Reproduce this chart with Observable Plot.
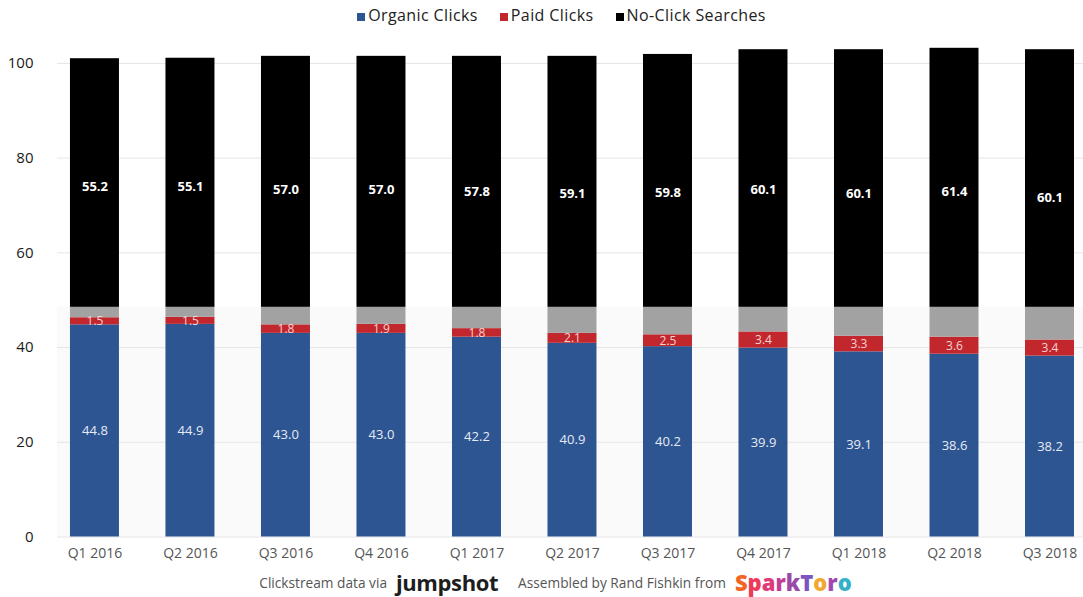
<!DOCTYPE html>
<html>
<head>
<meta charset="utf-8">
<script src="https://cdn.jsdelivr.net/npm/d3@7"></script>
<script src="https://cdn.jsdelivr.net/npm/@observablehq/plot@0.6"></script>
<style>
  html, body { margin: 0; padding: 0; background: #fff; }
  body { width: 1083px; height: 597px; overflow: hidden; font-family: "Open Sans", sans-serif; }
  #legend { height: 30px; display: flex; justify-content: center; align-items: center; padding-left: 40px; box-sizing: border-box; font-size: 16px; letter-spacing: 0.4px; color: #222; }
  #legend .item { display: flex; align-items: center; margin: 0 11px; }
  #legend .sw { display: inline-block; width: 8px; height: 8px; margin-right: 3px; margin-top: 3px; }
  #chart svg { display: block; }
  #footer { height: 30px; display: flex; justify-content: center; align-items: center; padding-left: 28px; box-sizing: border-box; color: #555; font-size: 13.7px; }
  #footer .logo1 { font-size: 22px; font-weight: 700; color: #1d1d1d; margin: 0 20px 0 9px; letter-spacing: -0.4px; }
  #footer .logo2 { font-size: 22px; font-weight: 800; margin-left: 9px; }
</style>
</head>
<body>
<div id="legend"></div>
<div id="chart"></div>
<div id="footer"></div>
<script>
const quarters = ["Q1 2016","Q2 2016","Q3 2016","Q4 2016","Q1 2017","Q2 2017","Q3 2017","Q4 2017","Q1 2018","Q2 2018","Q3 2018"];
const organic = [44.8, 44.9, 43.0, 43.0, 42.2, 40.9, 40.2, 39.9, 39.1, 38.6, 38.2];
const paid = [1.5, 1.5, 1.8, 1.9, 1.8, 2.1, 2.5, 3.4, 3.3, 3.6, 3.4];
const noClick = [55.2, 55.1, 57.0, 57.0, 57.8, 59.1, 59.8, 60.1, 60.1, 61.4, 60.1];
const barTop = [101.0, 101.1, 101.5, 101.5, 101.5, 101.5, 101.9, 102.9, 102.9, 103.2, 102.9];
const noClickBase = 48.5;
const yTicks = [0, 20, 40, 60, 80, 100];
const seriesNames = ["Organic Clicks", "Paid Clicks", "No-Click Searches"];
const seriesColors = ["#2d5592", "#c1272d", "#000000"];
const gapColor = "#a2a2a2";
const footerParts = ["Clickstream data via", "jumpshot", "Assembled by Rand Fishkin from", "SparkToro"];
const sparkColors = ["#f26522", "#ee3b5b", "#e03a78", "#c23d93", "#9b4aa8", "#7d55c0", "#f0a830", "#a04ab0", "#34b0c8"];

const rows = quarters.map((q, i) => ({
  q,
  organic: organic[i],
  paid: paid[i],
  noClick: noClick[i],
  top: barTop[i],
  base: organic[i] + paid[i]
}));

// legend
const legend = document.getElementById("legend");
seriesNames.forEach((name, i) => {
  const item = document.createElement("span");
  item.className = "item";
  const sw = document.createElement("span");
  sw.className = "sw";
  sw.style.background = seriesColors[i];
  const t = document.createElement("span");
  t.textContent = name;
  item.appendChild(sw);
  item.appendChild(t);
  legend.appendChild(item);
});

const chart = Plot.plot({
  width: 1083,
  height: 537,
  marginLeft: 57,
  marginRight: 0,
  marginTop: 14,
  marginBottom: 30.5,
  style: { fontFamily: "Open Sans, sans-serif", background: "transparent" },
  x: { domain: quarters, paddingInner: 0.487, paddingOuter: 0.115, align: 0.59, round: false, label: null },
  y: { domain: [0, 104], label: null },
  marks: [
    Plot.rect({length: 1}, { y1: 0, y2: noClickBase, fill: "#fafafa" }),
    Plot.ruleY(yTicks, { stroke: "#e6e6e6", strokeWidth: 1 }),
    Plot.barY(rows, { x: "q", y1: 0, y2: "organic", fill: seriesColors[0] }),
    Plot.barY(rows, { x: "q", y1: "organic", y2: "base", fill: seriesColors[1] }),
    Plot.barY(rows, { x: "q", y1: "base", y2: noClickBase, fill: gapColor }),
    Plot.barY(rows, { x: "q", y1: noClickBase, y2: "top", fill: seriesColors[2] }),
    Plot.text(rows, { x: "q", y: d => d.organic / 2, text: d => d.organic.toFixed(1), fill: "#e6eaf4", fontSize: 13 }),
    Plot.text(rows, { x: "q", y: d => d.organic + d.paid / 2, text: d => d.paid.toFixed(1), fill: "#f5d3d3", fontSize: 12 }),
    Plot.text(rows, { x: "q", y: d => d.base + d.noClick / 2, text: d => d.noClick.toFixed(1), fill: "#ffffff", fontSize: 13, fontWeight: "bold", letterSpacing: -0.6 }),
    Plot.axisY({ ticks: yTicks, tickSize: 0, tickPadding: 24, fontSize: 15, color: "#1a1a1a", label: null }),
    Plot.axisX({ tickSize: 0, tickPadding: 11, fontSize: 14, color: "#555", label: null })
  ]
});
document.getElementById("chart").appendChild(chart);

// footer
const footer = document.getElementById("footer");
const f1 = document.createElement("span"); f1.textContent = footerParts[0];
const f2 = document.createElement("span"); f2.className = "logo1"; f2.textContent = footerParts[1];
const f3 = document.createElement("span"); f3.textContent = footerParts[2];
const f4 = document.createElement("span"); f4.className = "logo2";
[...footerParts[3]].forEach((ch, i) => {
  const s = document.createElement("span");
  s.textContent = ch;
  s.style.color = sparkColors[i % sparkColors.length];
  f4.appendChild(s);
});
[f1, f2, f3, f4].forEach(e => footer.appendChild(e));
</script>
</body>
</html>
